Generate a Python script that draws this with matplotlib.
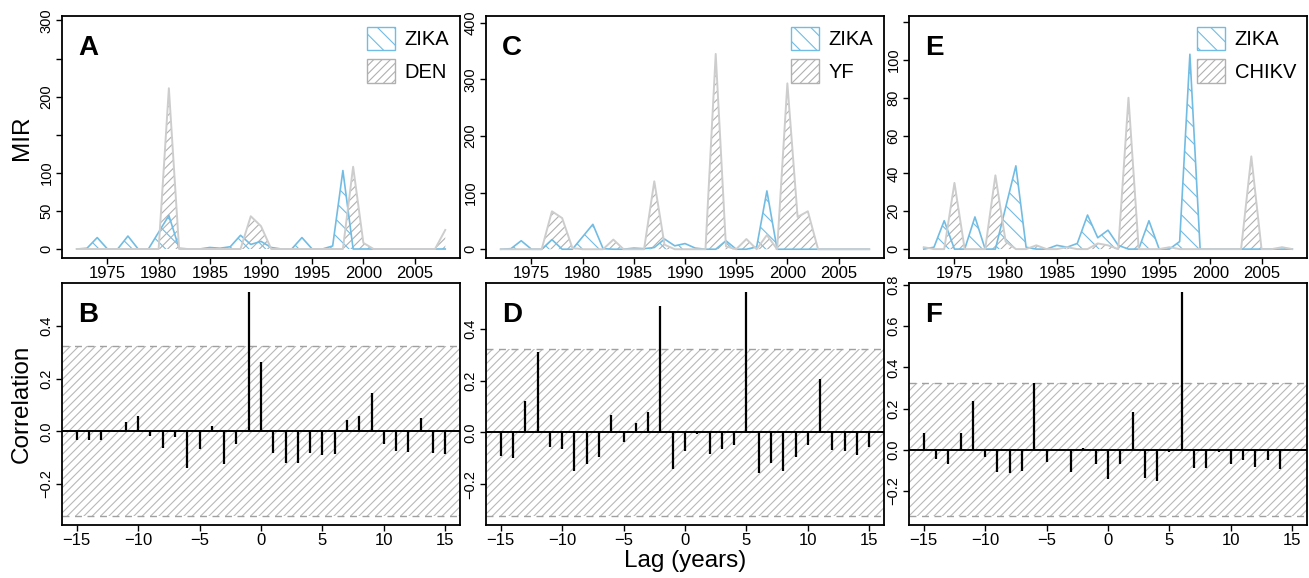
import numpy as np
import matplotlib
matplotlib.use('Agg')
import matplotlib.pyplot as plt
from matplotlib.patches import Patch

plt.rcParams['font.family'] = ['Liberation Sans', 'DejaVu Sans']
plt.rcParams['hatch.linewidth'] = 0.8

# --- data ---
years = np.arange(1972, 2009)

zika = [0, 1, 15, 0, 0, 17, 0, 0, 22, 44,
        1, 0, 0, 2, 1, 3, 18, 6, 10, 2,
        0, 0, 15, 0, 0, 4, 103, 0, 0, 0,
        0, 0, 0, 0, 0, 0, 0]
den = [0, 0, 0, 0, 0, 0, 0, 0, 0, 211,
       0, 0, 0, 0, 0, 0, 0, 43, 30, 0,
       0, 0, 0, 0, 0, 0, 0, 108, 8, 0,
       0, 0, 0, 0, 0, 0, 25]
yf = [0, 0, 0, 0, 0, 67, 55, 2, 0, 0,
      0, 17, 0, 0, 0, 120, 8, 0, 0, 0,
      0, 345, 5, 0, 18, 0, 25, 0, 293, 57,
      67, 0, 0, 0, 0, 0, 0]
chikv = [1, 0, 0, 35, 0, 0, 0, 39, 4, 0,
         0, 2, 0, 0, 1, 0, 0, 3, 2, 0,
         80, 0, 0, 0, 1, 0, 0, 0, 0, 0,
         0, 0, 49, 0, 0, 1, 0]

lags = np.arange(-15, 16)
ccf_den = [-0.034, -0.034, -0.032, -0.002, 0.036, 0.059, -0.018, -0.062,
           -0.022, -0.139, -0.069, 0.020, -0.126, -0.047, 0.529,
           0.262, -0.082, -0.120, -0.121, -0.082, -0.092, -0.088, 0.041,
           0.057, 0.145, -0.050, -0.076, -0.079, 0.052, -0.084, -0.088]
ccf_yf = [-0.090, -0.098, 0.120, 0.310, -0.058, -0.064, -0.149, -0.121,
          -0.093, 0.066, -0.037, 0.037, 0.078, 0.486, -0.140,
          -0.071, -0.005, -0.082, -0.062, -0.050, 0.541, -0.157, -0.116,
          -0.147, -0.096, -0.048, 0.205, -0.069, -0.073, -0.087, -0.055]
ccf_chikv = [0.081, -0.044, -0.070, 0.083, 0.236, -0.037, -0.106, -0.112,
             -0.104, 0.322, -0.062, 0.003, -0.106, 0.008, -0.070,
             -0.143, -0.067, 0.185, -0.138, -0.151, -0.010, 0.766, -0.091,
             -0.091, -0.013, -0.070, -0.050, -0.085, -0.050, -0.094, -0.002]
ci = 0.322  # significance band

year_ticks = [1975, 1980, 1985, 1990, 1995, 2000, 2005]
lag_ticks = [-15, -10, -5, 0, 5, 10, 15]

BLUE = '#72bce3'
GREY_LINE = '#cdcdcd'
GREY_HATCH = '#b0b0b0'
MINUS = '\u2212'

# --- layout (pixels of a 1309x578 image) ---
W, H = 1309, 578
fig = plt.figure(figsize=(W / 100, H / 100), dpi=100)
lefts = [62, 486, 909]
width = 398


def add_ax(left, top, bottom):
    return fig.add_axes([left / W, 1 - bottom / H, width / W, (bottom - top) / H])


def style(ax):
    for sp in ax.spines.values():
        sp.set_linewidth(1.3)
    ax.tick_params(direction='out', length=4, width=1, pad=2)
    ax.tick_params(axis='x', labelsize=12)
    ax.tick_params(axis='y', labelsize=10.5)


def mir_panel(ax, other, name, letter, ylim, yticks, ylabels):
    ax.fill_between(years, 0, zika, facecolor='none', edgecolor=BLUE,
                    hatch='\\\\', lw=0)
    ax.plot(years, zika, color=BLUE, lw=1.2)
    ax.fill_between(years, 0, other, facecolor='none', edgecolor=GREY_HATCH,
                    hatch='////', lw=0)
    ax.plot(years, other, color=GREY_LINE, lw=1.4)
    ax.set_xlim(1970.56, 2009.44)
    ax.set_ylim(*ylim)
    ax.set_xticks(year_ticks)
    ax.set_yticks(yticks)
    ax.set_yticklabels(ylabels, rotation=90, va='center')
    style(ax)
    ax.text(0.04, 0.84, letter, transform=ax.transAxes, fontsize=20,
            fontweight='bold', va='baseline', ha='left')
    handles = [Patch(facecolor='none', edgecolor=BLUE, hatch='\\\\', lw=1),
               Patch(facecolor='none', edgecolor=GREY_HATCH, hatch='////', lw=1)]
    ax.legend(handles, ['ZIKA', name], loc='upper right', frameon=False,
              fontsize=14.5, handlelength=1.4, handleheight=1.4,
              handletextpad=0.45, labelspacing=0.45, borderaxespad=0.3,
              borderpad=0.25)


def ccf_panel(ax, vals, letter, yticks):
    ax.axhspan(-ci, ci, facecolor='none', edgecolor='#b8b8b8', hatch='////', lw=0)
    ax.axhline(ci, color='#a0a0a0', lw=1, ls=(0, (5, 4)))
    ax.axhline(-ci, color='#a0a0a0', lw=1, ls=(0, (5, 4)))
    ax.axhline(0, color='black', lw=1.4)
    ax.vlines(lags, 0, vals, color='black', lw=1.6)
    lo = min(-ci, min(vals))
    hi = max(ci, max(vals))
    pad = 0.04 * (hi - lo)
    ax.set_ylim(lo - pad, hi + pad)
    ax.set_xlim(-16.2, 16.2)
    ax.set_xticks(lag_ticks)
    ax.set_xticklabels([f'{t}'.replace('-', MINUS) for t in lag_ticks])
    ax.set_yticks(yticks)
    ax.set_yticklabels([f'{t:.1f}'.replace('-', MINUS) for t in yticks],
                       rotation=90, va='center')
    style(ax)
    ax.text(0.04, 0.84, letter, transform=ax.transAxes, fontsize=20,
            fontweight='bold', va='baseline', ha='left')


axA = add_ax(lefts[0], 16, 258)
axC = add_ax(lefts[1], 16, 258)
axE = add_ax(lefts[2], 16, 258)
axB = add_ax(lefts[0], 283, 525)
axD = add_ax(lefts[1], 283, 525)
axF = add_ax(lefts[2], 283, 525)

mir_panel(axA, den, 'DEN', 'A', (-11.8, 305.8),
          [0, 50, 100, 150, 200, 250, 300], ['0', '50', '100', '', '200', '', '300'])
mir_panel(axC, yf, 'YF', 'C', (-15.5, 412),
          [0, 100, 200, 300, 400], ['0', '100', '200', '300', '400'])
mir_panel(axE, chikv, 'CHIKV', 'E', (-4.7, 123.2),
          [0, 20, 40, 60, 80, 100, 120], ['0', '20', '40', '60', '80', '100', ''])

ccf_panel(axB, ccf_den, 'B', [-0.2, 0.0, 0.2, 0.4])
ccf_panel(axD, ccf_yf, 'D', [-0.2, 0.0, 0.2, 0.4])
ccf_panel(axF, ccf_chikv, 'F', [-0.2, 0.0, 0.2, 0.4, 0.6, 0.8])

fig.text(22 / W, 1 - 138 / H, 'MIR', rotation=90, fontsize=17.5,
         ha='center', va='center')
fig.text(22 / W, 1 - 404 / H, 'Correlation', rotation=90, fontsize=17.5,
         ha='center', va='center')
fig.text(685 / W, 1 - 561 / H, 'Lag (years)', fontsize=17.5,
         ha='center', va='center')

fig.savefig('out.png', dpi=100)
